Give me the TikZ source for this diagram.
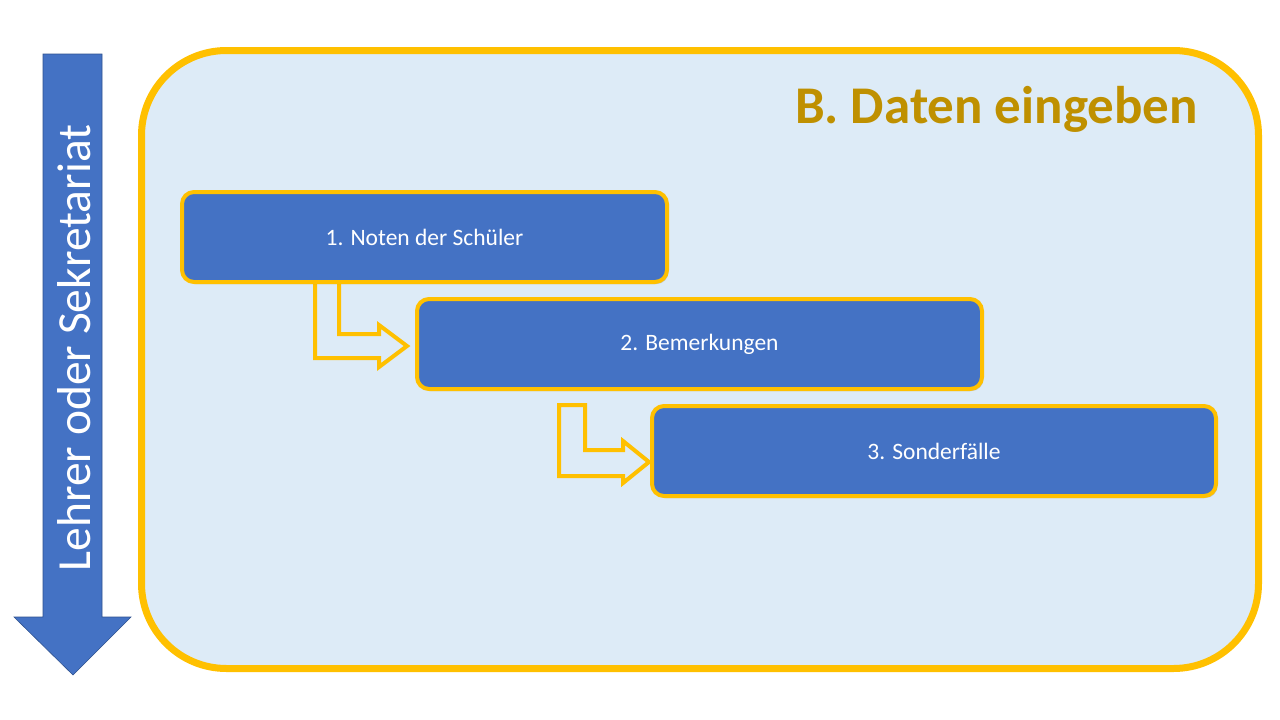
\documentclass[tikz,border=0pt]{standalone}
\usepackage{fontspec}
\setmainfont{Carlito}
\usetikzlibrary{shadows,calc}
\definecolor{bgblue}{HTML}{DDEBF7}
\definecolor{gold}{HTML}{FFC000}
\definecolor{boxblue}{HTML}{4472C4}
\definecolor{darkgold}{HTML}{BF9000}
\definecolor{edgeblue}{HTML}{2F528F}
\tikzset{
  stepbox/.style={draw=gold, line width=4pt, fill=boxblue, rounded corners=12pt,
    minimum width=#1, minimum height=90pt, inner sep=0pt, text=white,
    font=\fontsize{23.5}{28}\selectfont,
    drop shadow={opacity=0.35, shadow xshift=1.5pt, shadow yshift=-2pt}},
  bentarrow/.style={draw=gold, line width=4pt, line join=miter, fill=none}
}
\begin{document}
\begin{tikzpicture}[x=1pt,y=-1pt]
\useasboundingbox (0,0) rectangle (1280,720);
% white background
\fill[white] (0,0) rectangle (1280,720);
% main frame
\draw[draw=gold, line width=7pt, fill=bgblue, rounded corners=85pt]
  (141.5,50.5) rectangle (1258.5,668.5);
% left arrow
\draw[fill=boxblue, draw=edgeblue, line width=0.6pt]
  (43,54) -- (102,54) -- (102,617) -- (131,617) -- (73,675) -- (14,617) -- (43,617) -- cycle;
\node[rotate=90, text=white, font=\fontsize{47.5}{56}\selectfont] (side) at (74,348) {Lehrer oder Sekretariat};
% title
\node[anchor=base east, text=darkgold, font=\bfseries\fontsize{53}{60}\selectfont, inner sep=0pt] (title) at (1198,123) {B. Daten eingeben};
% bent arrows
\draw[bentarrow] (315,280) -- (339,280) -- (339,334) -- (379,334) -- (379,325) -- (407,346)
  -- (379,367) -- (379,358) -- (315,358) -- cycle;
\draw[bentarrow] (559,405) -- (585,405) -- (585,450) -- (623,450) -- (623,441) -- (649,462)
  -- (623,483) -- (623,476) -- (559,476) -- cycle;
% boxes
\node[stepbox=485pt] (b1) at (424.5,237) {1. Noten der Schüler};
\node[stepbox=565pt] (b2) at (699.5,344) {2. Bemerkungen};
\node[stepbox=564pt] (b3) at (934,451) {3. Sonderfälle};
\end{tikzpicture}
\end{document}
